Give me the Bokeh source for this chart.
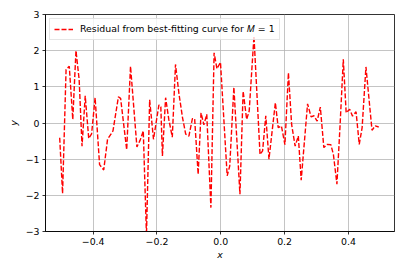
from bokeh.plotting import figure
from bokeh.models import FixedTicker, Range1d, Legend, LegendItem
from bokeh.embed import file_html
from bokeh.resources import INLINE

xs = [-0.505, -0.496, -0.485, -0.475, -0.464, -0.454, -0.444, -0.435, -0.425, -0.414,
      -0.405, -0.394, -0.38, -0.367, -0.355, -0.338, -0.321, -0.314, -0.295, -0.283,
      -0.263, -0.253, -0.243, -0.233, -0.223, -0.211, -0.202, -0.194, -0.188, -0.183,
      -0.173, -0.163, -0.152, -0.142, -0.131, -0.120, -0.110, -0.100, -0.089, -0.082,
      -0.071, -0.062, -0.053, -0.044, -0.031, -0.021, -0.012, -0.001, 0.020, 0.028,
      0.041, 0.060, 0.070, 0.081, 0.089, 0.104, 0.123, 0.131, 0.141, 0.151,
      0.161, 0.171, 0.180, 0.190, 0.201, 0.212, 0.222, 0.233, 0.243, 0.252,
      0.272, 0.283, 0.292, 0.302, 0.312, 0.323, 0.334, 0.345, 0.353, 0.364,
      0.374, 0.384, 0.393, 0.404, 0.413, 0.424, 0.434, 0.443, 0.455, 0.474,
      0.484, 0.495]
ys = [-0.41, -1.95, 1.48, 1.57, 0.10, 2.00, 1.20, -0.64, 0.75, -0.43,
      -0.30, 0.70, -1.15, -1.30, -0.45, -0.22, 0.72, 0.68, -0.74, 1.57,
      -0.66, -0.48, -0.22, -3.10, 0.64, -0.45, 0.05, 0.50, 0.45, -0.91,
      0.70, 0.10, -0.39, 1.62, 0.80, 0.15, -0.31, -0.36, 0.12, 0.12,
      -1.42, 0.28, -0.05, 0.24, -2.34, 1.94, 1.50, 1.68, -1.46, -1.19,
      0.99, -1.97, 0.88, 0.10, 0.33, 2.40, -0.87, -0.77, 0.20, -1.00,
      -0.22, 0.56, -0.13, -0.08, -0.60, 1.39, -0.04, -0.64, -0.36, -1.58,
      0.53, 0.17, 0.20, 0.05, 0.44, -0.68, -0.59, -0.60, -0.87, -1.69,
      -0.04, 1.76, 0.28, 0.38, 0.19, 0.31, -0.59, -0.13, 1.55, -0.20,
      -0.08, -0.11]

x_ticks = [-0.4, -0.2, 0, 0.2, 0.4]
x_labels = ["\u22120.4", "\u22120.2", "0.0", "0.2", "0.4"]
y_ticks = [-3, -2, -1, 0, 1, 2, 3]
y_labels = ["\u22123", "\u22122", "\u22121", "0", "1", "2", "3"]
legend_text = "Residual from best-fitting curve for \U0001D440 = 1"

FONT = "DejaVu Sans"
FS = "9.4px"

p = figure(width=407, height=271, output_backend="svg", toolbar_location=None,
           x_range=Range1d(-0.5495, 0.5445), y_range=Range1d(-3, 3),
           min_border_left=45, min_border_right=13, min_border_top=14, min_border_bottom=40)

p.background_fill_color = "white"
p.border_fill_color = "white"
p.outline_line_color = "black"
p.outline_line_width = 0.8
p.outline_line_alpha = 1.0

for ax in (p.xaxis[0], p.yaxis[0]):
    ax.axis_line_color = "black"
    ax.axis_line_width = 0.8
    ax.major_tick_line_color = "black"
    ax.major_tick_line_width = 0.8
    ax.major_tick_out = 3
    ax.major_tick_in = 0
    ax.minor_tick_line_color = None
    ax.major_label_text_font = FONT
    ax.major_label_text_font_size = FS
    ax.major_label_text_color = "black"
    ax.axis_label_text_font = FONT
    ax.axis_label_text_font_style = "italic"
    ax.axis_label_text_font_size = FS
    ax.axis_label_text_color = "black"

p.xaxis.ticker = FixedTicker(ticks=x_ticks)
p.xaxis.major_label_overrides = {t: l for t, l in zip(x_ticks, x_labels)}
p.yaxis.ticker = FixedTicker(ticks=y_ticks)
p.yaxis.major_label_overrides = {t: l for t, l in zip(y_ticks, y_labels)}
p.xaxis.axis_label = "x"
p.yaxis.axis_label = "y"
p.xaxis.major_label_standoff = 3
p.yaxis.major_label_standoff = 3
p.xaxis.axis_label_standoff = 1
p.yaxis.axis_label_standoff = 4

p.xgrid.ticker = FixedTicker(ticks=x_ticks)
p.ygrid.ticker = FixedTicker(ticks=y_ticks)
p.grid.grid_line_color = "#b0b0b0"
p.grid.grid_line_width = 0.75

r = p.line(xs, ys, line_color="red", line_width=1.4, line_dash="5 2")

legend = Legend(items=[LegendItem(label=legend_text, renderers=[r])],
                location="top_left")
legend.label_text_font = FONT
legend.label_text_font_size = FS
legend.label_text_color = "black"
legend.border_line_color = "#cccccc"
legend.border_line_width = 1
legend.background_fill_alpha = 0.8
legend.margin = 4
legend.padding = 4
legend.spacing = 0
legend.glyph_width = 19
legend.glyph_height = 10
legend.label_standoff = 7
legend.label_height = 10
p.add_layout(legend)

open("out.html", "w").write(file_html(p, INLINE))
